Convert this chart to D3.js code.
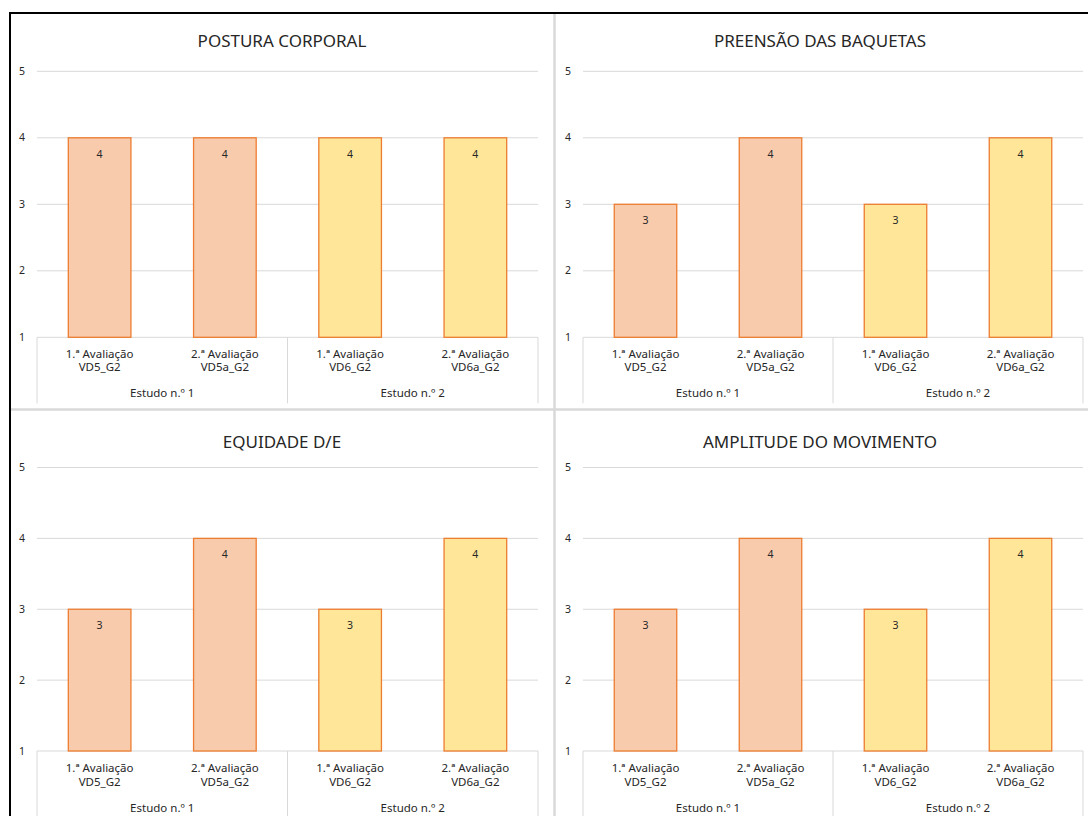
<!DOCTYPE html>
<html>
<head>
<meta charset="utf-8">
<script src="https://cdn.jsdelivr.net/npm/d3@7"></script>
<style>
  body { margin: 0; background: #ffffff; }
  text { font-family: "Noto Sans", "Open Sans", sans-serif; fill: #262626; }
</style>
</head>
<body>
<div class="main"></div>
<script>
// chart data
const titles = ["POSTURA CORPORAL", "PREENSÃO DAS BAQUETAS", "EQUIDADE D/E", "AMPLITUDE DO MOVIMENTO"];
const sessions = ["1.ª Avaliação", "2.ª Avaliação", "1.ª Avaliação", "2.ª Avaliação"];
const codes = ["VD5_G2", "VD5a_G2", "VD6_G2", "VD6a_G2"];
const studies = ["Estudo n.º 1", "Estudo n.º 2"];
const studyOf = [0, 0, 1, 1];
const postura = [4, 4, 4, 4];
const preensao = [3, 4, 3, 4];
const equidade = [3, 4, 3, 4];
const amplitude = [3, 4, 3, 4];
const yTicks = [1, 2, 3, 4, 5];

const allValues = [postura, preensao, equidade, amplitude];
const fills = ["#f8cbad", "#ffe699"];

let width = 1088, height = 816;

let svg = d3.select("div.main").append("svg")
  .attr("width", width)
  .attr("height", height);

// panel placement (plot area of each chart)
let panels = [
  { x0: 37,  x1: 538,  y0: 71.3,  y1: 337.3, cx: 282, ty: 47,  off: [21, 34, 60] },
  { x0: 583, x1: 1083, y0: 71.3,  y1: 337.3, cx: 820, ty: 47,  off: [21, 34, 60] },
  { x0: 37,  x1: 538,  y0: 467.5, y1: 751,   cx: 282, ty: 448, off: [21, 35, 61] },
  { x0: 583, x1: 1083, y0: 467.5, y1: 751,   cx: 820, ty: 448, off: [21, 35, 61] }
];

// panel dividers
svg.append("line")
  .attr("x1", 554.5).attr("x2", 554.5)
  .attr("y1", 14).attr("y2", height)
  .attr("stroke", "#d9d9d9").attr("stroke-width", 2.5);
svg.append("line")
  .attr("x1", 11).attr("x2", width)
  .attr("y1", 409.5).attr("y2", 409.5)
  .attr("stroke", "#d9d9d9").attr("stroke-width", 2.5);

panels.forEach(function(p, k) {
  let values = allValues[k];
  let g = svg.append("g");

  let y = d3.scaleLinear().domain([1, 5]).range([p.y1, p.y0]);
  let x = d3.scaleBand().domain(codes).range([p.x0, p.x1])
    .paddingInner(0.5).paddingOuter(0.25);

  // title
  g.append("text")
    .attr("x", p.cx)
    .attr("y", p.ty)
    .attr("text-anchor", "middle")
    .style("font-size", "17px")
    .text(titles[k]);

  // gridlines + y labels
  g.selectAll("line.grid")
    .data(yTicks)
    .enter().append("line")
      .attr("class", "grid")
      .attr("x1", p.x0).attr("x2", p.x1)
      .attr("y1", d => y(d)).attr("y2", d => y(d))
      .attr("stroke", "#d9d9d9").attr("stroke-width", 1);

  g.selectAll("text.ytick")
    .data(yTicks)
    .enter().append("text")
      .attr("class", "ytick")
      .attr("x", p.x0 - 12)
      .attr("y", d => y(d))
      .attr("dy", "0.35em")
      .attr("text-anchor", "end")
      .style("font-size", "10.5px")
      .text(d => d);

  // bars
  g.selectAll("rect.bar")
    .data(values)
    .enter().append("rect")
      .attr("class", "bar")
      .attr("x", (d, i) => x(codes[i]))
      .attr("y", d => y(d))
      .attr("width", x.bandwidth())
      .attr("height", d => y(1) - y(d))
      .attr("fill", (d, i) => fills[studyOf[i]])
      .attr("stroke", "#ed7d31")
      .attr("stroke-width", 1.3);

  g.selectAll("text.val")
    .data(values)
    .enter().append("text")
      .attr("class", "val")
      .attr("x", (d, i) => x(codes[i]) + x.bandwidth() / 2)
      .attr("y", d => y(d) + 20)
      .attr("text-anchor", "middle")
      .style("font-size", "10.5px")
      .text(d => d);

  // multi level category axis
  let mid = (p.x0 + p.x1) / 2;
  [p.x0, mid, p.x1].forEach(function(xx) {
    g.append("line")
      .attr("x1", xx).attr("x2", xx)
      .attr("y1", p.y1).attr("y2", p.y1 + 66)
      .attr("stroke", "#d9d9d9").attr("stroke-width", 1);
  });

  codes.forEach(function(c, i) {
    let cx = x(c) + x.bandwidth() / 2;
    g.append("text")
      .attr("x", cx).attr("y", p.y1 + p.off[0])
      .attr("text-anchor", "middle")
      .style("font-size", "11.5px")
      .text(sessions[i]);
    g.append("text")
      .attr("x", cx).attr("y", p.y1 + p.off[1])
      .attr("text-anchor", "middle")
      .style("font-size", "11.5px")
      .text(c);
  });

  studies.forEach(function(s, j) {
    g.append("text")
      .attr("x", j == 0 ? (p.x0 + mid) / 2 : (mid + p.x1) / 2)
      .attr("y", p.y1 + p.off[2])
      .attr("text-anchor", "middle")
      .style("font-size", "11.5px")
      .text(s);
  });
});

// outer frame, runs off the right and bottom edges
svg.append("rect")
  .attr("x", 10)
  .attr("y", 13)
  .attr("width", width + 20)
  .attr("height", height + 20)
  .attr("fill", "none")
  .attr("stroke", "#000000")
  .attr("stroke-width", 2);
</script>
</body>
</html>
